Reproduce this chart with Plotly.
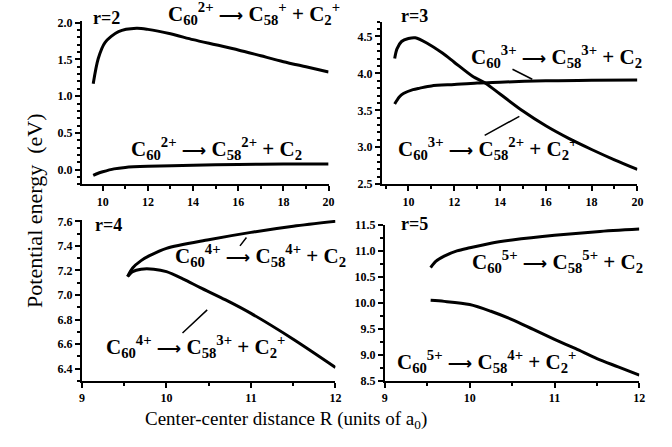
import plotly.graph_objects as go

# ---------------- data ----------------
r2_up_x = [9.58, 9.8, 10.1, 10.7, 11.5, 12, 13, 14, 15, 16, 17, 18, 19, 20]
r2_up_y = [1.17, 1.51, 1.73, 1.88, 1.925, 1.91, 1.85, 1.77, 1.70, 1.63, 1.55, 1.47, 1.40, 1.33]
r2_lo_x = [9.58, 9.8, 10, 10.5, 11, 12, 14, 16, 18, 20]
r2_lo_y = [-0.08, -0.05, -0.03, 0.01, 0.03, 0.045, 0.06, 0.07, 0.075, 0.075]

r3_pk_x = [9.4, 9.5, 9.7, 10.0, 10.3, 10.8, 11.5, 12, 12.8, 13.4, 14, 15, 16, 17, 18, 19, 20]
r3_pk_y = [4.2, 4.33, 4.43, 4.47, 4.48, 4.41, 4.27, 4.15, 3.96, 3.86, 3.72, 3.49, 3.29, 3.12, 2.97, 2.83, 2.70]
r3_fl_x = [9.4, 9.6, 9.8, 10.2, 10.5, 11, 12, 13, 14, 16, 18, 20]
r3_fl_y = [3.585, 3.68, 3.73, 3.78, 3.80, 3.83, 3.85, 3.87, 3.88, 3.90, 3.905, 3.91]

r4_up_x = [9.54, 9.6, 9.7, 9.8, 10, 10.5, 11, 11.5, 12]
r4_up_y = [7.15, 7.22, 7.28, 7.32, 7.38, 7.45, 7.51, 7.56, 7.60]
r4_lo_x = [9.54, 9.6, 9.7, 9.85, 10, 10.2, 10.4, 10.7, 11, 11.5, 12]
r4_lo_y = [7.15, 7.19, 7.21, 7.21, 7.19, 7.13, 7.06, 6.96, 6.85, 6.64, 6.41]

r5_up_x = [9.54, 9.6, 9.7, 9.85, 10, 10.25, 10.5, 11, 11.5, 12]
r5_up_y = [10.68, 10.8, 10.9, 11.0, 11.06, 11.15, 11.21, 11.30, 11.37, 11.42]
r5_lo_x = [9.54, 9.7, 10, 10.25, 10.5, 10.75, 11, 11.25, 11.5, 11.75, 12]
r5_lo_y = [10.05, 10.03, 9.97, 9.84, 9.68, 9.49, 9.30, 9.12, 8.93, 8.77, 8.61]

panel_labels = ["r=2", "r=3", "r=4", "r=5"]
ARROW = '<span style="font-family:DejaVu Sans;font-size:17px">⟶</span>'
reaction_labels = [
    "C<sub>60</sub><sup>2+</sup> " + ARROW + " C<sub>58</sub><sup>+</sup> + C<sub>2</sub><sup>+</sup>",
    "C<sub>60</sub><sup>2+</sup> " + ARROW + " C<sub>58</sub><sup>2+</sup> + C<sub>2</sub>",
    "C<sub>60</sub><sup>3+</sup> " + ARROW + " C<sub>58</sub><sup>3+</sup> + C<sub>2</sub>",
    "C<sub>60</sub><sup>3+</sup> " + ARROW + " C<sub>58</sub><sup>2+</sup> + C<sub>2</sub><sup>+</sup>",
    "C<sub>60</sub><sup>4+</sup> " + ARROW + " C<sub>58</sub><sup>4+</sup> + C<sub>2</sub>",
    "C<sub>60</sub><sup>4+</sup> " + ARROW + " C<sub>58</sub><sup>3+</sup> + C<sub>2</sub><sup>+</sup>",
    "C<sub>60</sub><sup>5+</sup> " + ARROW + " C<sub>58</sub><sup>5+</sup> + C<sub>2</sub>",
    "C<sub>60</sub><sup>5+</sup> " + ARROW + " C<sub>58</sub><sup>4+</sup> + C<sub>2</sub><sup>+</sup>",
]
y_title = "Potential energy  (eV)"
x_title = "Center-center distance R (units of a<sub>0</sub>)"

# leader lines (data coords): (axis, x0, y0, x1, y1)
leaders = [
    ("2", 14.48, 4.065, 15.41, 3.92),
    ("2", 14.91, 3.43, 13.33, 3.16),
    ("3", 10.96, 7.48, 10.87, 7.40),
    ("3", 10.50, 6.89, 10.19, 6.69),
]

W, H = 672, 447
def px(x): return x / W
def py(y): return 1 - y / H

fig = go.Figure()
series = [
    (r2_up_x, r2_up_y, "x", "y"), (r2_lo_x, r2_lo_y, "x", "y"),
    (r3_pk_x, r3_pk_y, "x2", "y2"), (r3_fl_x, r3_fl_y, "x2", "y2"),
    (r4_up_x, r4_up_y, "x3", "y3"), (r4_lo_x, r4_lo_y, "x3", "y3"),
    (r5_up_x, r5_up_y, "x4", "y4"), (r5_lo_x, r5_lo_y, "x4", "y4"),
]
for xs, ys, xa, ya in series:
    fig.add_trace(go.Scatter(x=xs, y=ys, xaxis=xa, yaxis=ya, mode="lines",
                             line=dict(color="black", width=3, shape="spline", smoothing=0.8),
                             showlegend=False, hoverinfo="skip"))

tickfont = dict(family="Liberation Serif", size=12, color="black", weight="bold")
def xax(dom, rng, dt, mdt, anchor):
    return dict(domain=dom, range=rng, dtick=dt, tick0=0, anchor=anchor, showgrid=False, zeroline=False,
                showline=True, linecolor="black", linewidth=2, ticks="outside", ticklen=5,
                tickwidth=2, tickcolor="black", tickfont=tickfont,
                minor=dict(dtick=mdt, ticks="outside", ticklen=3, tickwidth=1.5, tickcolor="black"))
def yax(dom, rng, dt, mdt, anchor, fmt):
    return dict(domain=dom, range=rng, dtick=dt, tick0=0, anchor=anchor, showgrid=False, zeroline=False,
                showline=True, linecolor="black", linewidth=2, ticks="outside", ticklen=5,
                tickwidth=2, tickcolor="black", tickfont=tickfont, tickformat=fmt,
                minor=dict(dtick=mdt, ticks="outside", ticklen=3, tickwidth=1.5, tickcolor="black"))

fig.update_layout(
    width=W, height=H, margin=dict(l=0, r=0, t=0, b=0),
    paper_bgcolor="white", plot_bgcolor="rgba(0,0,0,0)",
    xaxis=xax([px(80), px(330)], [9.08, 20], 2, 1, "y"),
    yaxis=yax([py(183), py(14)], [-0.2, 2.03], 0.5, 0.1, "x", ".1f"),
    xaxis2=xax([px(384), px(643)], [8.84, 20], 2, 1, "y2"),
    yaxis2=yax([py(183), py(15)], [2.5, 4.7], 0.5, 0.1, "x2", ".1f"),
    xaxis3=xax([px(80), px(337)], [9, 12], 1, 0.5, "y3"),
    yaxis3=yax([py(386), py(220)], [6.3, 7.61], 0.2, 0.1, "x3", ".1f"),
    xaxis4=xax([px(387), px(645)], [9, 12], 1, 0.5, "y4"),
    yaxis4=yax([py(386), py(225)], [8.5, 11.5], 0.5, 0.25, "x4", ".1f"),
)

annfont = dict(family="Liberation Serif", size=21, color="black", weight="bold")
anns = []
# panel labels
for lab, (xx, yy) in zip(panel_labels, [(105, 11), (417, 9), (107, 225), (417, 224)]):
    anns.append(dict(text=lab, x=px(xx), y=py(yy), xref="paper", yref="paper", showarrow=False,
                     xanchor="center", yanchor="middle",
                     font=dict(family="Liberation Serif", size=18, color="black", weight="bold")))
# reaction labels (left edge, vertical centre)
for lab, (xx, yy) in zip(reaction_labels, [(165, 7), (128, 146), (472, 51), (398, 146),
                                            (172, 257), (102, 350), (473, 263), (397, 366)]):
    anns.append(dict(text=lab, x=px(xx), y=py(yy), xref="paper", yref="paper", showarrow=False,
                     xanchor="left", yanchor="middle", font=annfont))
# leader lines
for ax_id, x0, y0, x1, y1 in leaders:
    anns.append(dict(x=x1, y=y1, ax=x0, ay=y0, xref="x" + ax_id, yref="y" + ax_id,
                     axref="x" + ax_id, ayref="y" + ax_id, text="", showarrow=True,
                     arrowhead=0, arrowwidth=1.5, arrowcolor="black"))
# axis titles
anns.append(dict(text=y_title, x=px(32), y=py(211), xref="paper", yref="paper", showarrow=False,
                 textangle=-90, xanchor="center", yanchor="middle",
                 font=dict(family="Liberation Serif", size=22, color="black")))
anns.append(dict(text=x_title, x=px(287), y=py(426), xref="paper", yref="paper", showarrow=False,
                 xanchor="center", yanchor="middle",
                 font=dict(family="Liberation Serif", size=19, color="black")))
fig.update_layout(annotations=anns)

fig.write_html("out.html", config={"displayModeBar": False},
               post_script="document.body.style.margin='0px';")
